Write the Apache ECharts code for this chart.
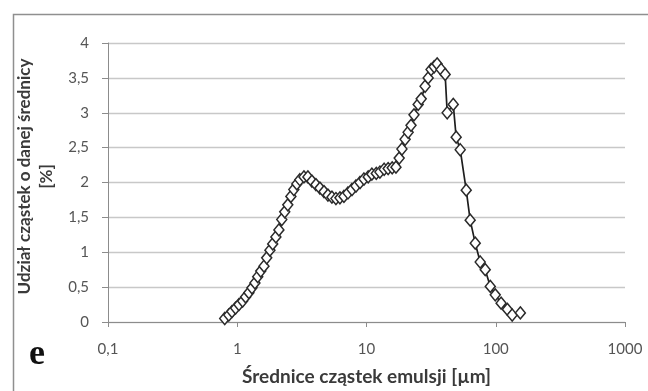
<!DOCTYPE html>
<html>
<head>
<meta charset="utf-8">
<script src="https://cdn.jsdelivr.net/npm/echarts@6/dist/echarts.min.js"></script>
<style>html,body{margin:0;padding:0;background:#fff;}#c{width:648px;height:391px;}</style>
</head>
<body>
<div id="c"></div>
<script>
// Particle diameter [µm]
const diameters = [0.80, 0.86, 0.91, 0.97, 1.03, 1.10, 1.16, 1.23, 1.30, 1.37, 1.44, 1.52, 1.61, 1.69, 1.79, 1.88, 1.99, 2.10, 2.21, 2.33, 2.46, 2.60, 2.74, 2.89, 3.05, 3.28, 3.52, 3.78, 4.06, 4.36, 4.69, 5.03, 5.40, 5.80, 6.23, 6.69, 7.19, 7.72, 8.29, 8.91, 9.56, 10.3, 11.0, 11.9, 12.7, 13.7, 14.7, 15.8, 16.9, 17.9, 18.8, 19.9, 21.0, 22.1, 23.3, 25.1, 26.5, 28.4, 30.0, 31.6, 33.4, 35.2, 37.8, 40.6, 42.1, 46.9, 49.4, 53.1, 59.1, 63.4, 69.4, 75.8, 82.9, 90.7, 99.1, 110, 123, 134, 155];
// Share of particles of given diameter [%]
const shares = [0.05, 0.10, 0.15, 0.20, 0.25, 0.30, 0.36, 0.42, 0.49, 0.56, 0.65, 0.73, 0.80, 0.92, 1.03, 1.12, 1.22, 1.32, 1.47, 1.58, 1.68, 1.80, 1.90, 1.98, 2.04, 2.08, 2.08, 2.02, 1.97, 1.92, 1.87, 1.82, 1.79, 1.77, 1.78, 1.80, 1.85, 1.90, 1.95, 2.00, 2.05, 2.08, 2.12, 2.13, 2.15, 2.19, 2.20, 2.21, 2.22, 2.35, 2.48, 2.62, 2.72, 2.82, 2.97, 3.12, 3.20, 3.38, 3.50, 3.62, 3.66, 3.70, 3.62, 3.55, 3.00, 3.12, 2.65, 2.47, 1.89, 1.46, 1.13, 0.86, 0.75, 0.51, 0.39, 0.27, 0.18, 0.10, 0.13];
const xTicks = [0.1, 1, 10, 100, 1000];
const yTicks = [0, 0.5, 1, 1.5, 2, 2.5, 3, 3.5, 4];
const xTitle = 'Średnice cząstek emulsji [µm]';
const yTitle = 'Udział cząstek o danej średnicy\n[%]';
const panelLabel = 'e';

const points = diameters.map((d, i) => [d, shares[i]]);
const comma = v => String(v).replace('.', ',');

const chart = echarts.init(document.getElementById('c'), null, {renderer: 'canvas'});
chart.setOption({
  backgroundColor: '#fff',
  animation: false,
  grid: {left: 108, right: 23, top: 43, bottom: 69, containLabel: false},
  xAxis: {
    type: 'log', logBase: 10, min: xTicks[0], max: xTicks[xTicks.length - 1],
    name: xTitle, nameLocation: 'middle', nameGap: 45,
    nameTextStyle: {fontFamily: 'Lato', fontWeight: 'bold', fontSize: 19, color: '#3a3a3a'},
    axisLine: {show: true, lineStyle: {color: '#8c8c8c', width: 1}},
    axisTick: {show: true, inside: false, length: 5, lineStyle: {color: '#8c8c8c'}},
    minorTick: {show: false},
    splitLine: {show: false},
    axisLabel: {formatter: v => comma(+v.toPrecision(6)), fontFamily: 'Lato', fontSize: 15, color: '#555', margin: 20}
  },
  yAxis: {
    type: 'value', min: yTicks[0], max: yTicks[yTicks.length - 1], interval: 0.5,
    name: yTitle, nameLocation: 'middle', nameGap: 50, nameRotate: 90,
    nameTextStyle: {fontFamily: 'Lato', fontWeight: 'bold', fontSize: 17, color: '#3a3a3a', lineHeight: 22, align: 'center', padding: [0, 0, 0, 12]},
    axisLine: {show: true, lineStyle: {color: '#8c8c8c', width: 1}},
    axisTick: {show: true, inside: false, length: 6, lineStyle: {color: '#8c8c8c'}},
    splitLine: {show: true, lineStyle: {color: '#c8c8c8', width: 1.3}},
    axisLabel: {formatter: v => comma(v), fontFamily: 'Lato', fontSize: 15, color: '#555', margin: 19}
  },
  graphic: [
    {type: 'rect', left: 11, top: 12, shape: {width: 700, height: 500}, style: {fill: 'none', stroke: '#8f8f8f', lineWidth: 1.5}, z: 0},
    {type: 'text', left: 29, top: 337, style: {text: panelLabel, font: 'bold 36px "Liberation Serif", "DejaVu Serif", serif', fill: '#111'}}
  ],
  series: [{
    type: 'line',
    data: points,
    symbol: 'diamond',
    symbolSize: [10, 12],
    showAllSymbol: true,
    lineStyle: {color: '#1e1e1e', width: 1.7},
    itemStyle: {color: '#ffffff', borderColor: '#2a2a2a', borderWidth: 1.5},
    z: 5
  }]
});
</script>
</body>
</html>
